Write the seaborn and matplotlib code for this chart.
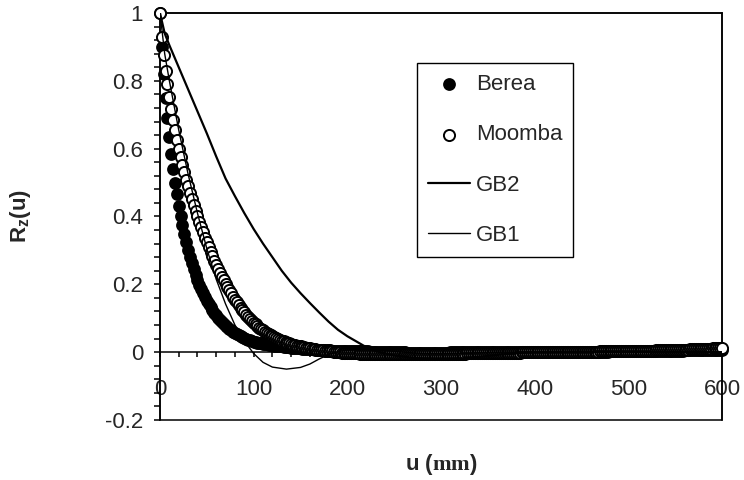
import numpy as np
import pandas as pd
import matplotlib
matplotlib.use("Agg")
import matplotlib.pyplot as plt
import seaborn as sns
from matplotlib.ticker import MultipleLocator, FuncFormatter
from matplotlib.patches import Rectangle

# lag u of the measured correlation points
u_pts = [0, 2, 4, 6, 8, 10, 12, 14, 16, 18,
         20, 22, 24, 26, 28, 30, 32, 34, 36, 38,
         40, 42, 44, 46, 48, 50, 52, 54, 56, 58,
         60, 62, 64, 66, 68, 70, 72, 74, 76, 78,
         80, 82, 84, 86, 88, 90, 92, 94, 96, 98,
         100, 102, 104, 106, 108, 110, 112, 114, 116, 118,
         120, 122, 124, 126, 128, 130, 132, 134, 136, 138,
         140, 142, 144, 146, 148, 150, 152, 154, 156, 158,
         160, 162, 164, 166, 168, 170, 172, 174, 176, 178,
         180, 182, 184, 186, 188, 190, 192, 194, 196, 198,
         200, 202, 204, 206, 208, 210, 212, 214, 216, 218,
         220, 222, 224, 226, 228, 230, 232, 234, 236, 238,
         240, 242, 244, 246, 248, 250, 252, 254, 256, 258,
         260, 262, 264, 266, 268, 270, 272, 274, 276, 278,
         280, 282, 284, 286, 288, 290, 292, 294, 296, 298,
         300, 302, 304, 306, 308, 310, 312, 314, 316, 318,
         320, 322, 324, 326, 328, 330, 332, 334, 336, 338,
         340, 342, 344, 346, 348, 350, 352, 354, 356, 358,
         360, 362, 364, 366, 368, 370, 372, 374, 376, 378,
         380, 382, 384, 386, 388, 390, 392, 394, 396, 398,
         400, 402, 404, 406, 408, 410, 412, 414, 416, 418,
         420, 422, 424, 426, 428, 430, 432, 434, 436, 438,
         440, 442, 444, 446, 448, 450, 452, 454, 456, 458,
         460, 462, 464, 466, 468, 470, 472, 474, 476, 478,
         480, 482, 484, 486, 488, 490, 492, 494, 496, 498,
         500, 502, 504, 506, 508, 510, 512, 514, 516, 518,
         520, 522, 524, 526, 528, 530, 532, 534, 536, 538,
         540, 542, 544, 546, 548, 550, 552, 554, 556, 558,
         560, 562, 564, 566, 568, 570, 572, 574, 576, 578,
         580, 582, 584, 586, 588, 590, 592, 594, 596, 598,
         600]

berea = [1.0, 0.9, 0.82, 0.75, 0.69, 0.635, 0.585, 0.54, 0.5, 0.465,
         0.432, 0.402, 0.374, 0.348, 0.324, 0.302, 0.282, 0.263, 0.245, 0.228,
         0.213, 0.199, 0.186, 0.174, 0.163, 0.152, 0.142, 0.133, 0.124, 0.116,
         0.109, 0.102, 0.095, 0.089, 0.083, 0.078, 0.073, 0.068, 0.064, 0.06,
         0.056, 0.053, 0.05, 0.047, 0.044, 0.041, 0.039, 0.037, 0.035, 0.033,
         0.031, 0.03, 0.028, 0.027, 0.026, 0.025, 0.024, 0.023, 0.022, 0.021,
         0.02, 0.019, 0.019, 0.018, 0.017, 0.017, 0.016, 0.015, 0.015, 0.014,
         0.013, 0.013, 0.012, 0.012, 0.011, 0.011, 0.01, 0.01, 0.009, 0.009,
         0.008, 0.008, 0.008, 0.007, 0.007, 0.007, 0.006, 0.006, 0.006, 0.005,
         0.005, 0.005, 0.004, 0.004, 0.004, 0.004, 0.003, 0.003, 0.003, 0.003,
         0.002, 0.002, 0.002, 0.002, 0.002, 0.002, 0.002, 0.002, 0.002, 0.002,
         0.002, 0.002, 0.001, 0.001, 0.001, 0.001, 0.001, 0.001, 0.001, 0.001,
         0.0, 0.0, 0.0, 0.0, 0.0, 0.0, 0.0, 0.0, 0.0, 0.0,
         0.0, 0.0, -0.001, -0.001, -0.001, -0.001, -0.001, -0.001, -0.001, -0.001,
         -0.001, -0.001, -0.001, -0.001, -0.001, -0.001, -0.001, -0.001, -0.001, -0.001,
         -0.001, -0.001, -0.001, -0.001, -0.001, 0.0, 0.0, 0.0, 0.0, 0.0,
         0.0, 0.0, 0.0, 0.0, 0.0, 0.0, 0.0, 0.0, 0.0, 0.0,
         0.0, 0.0, 0.0, 0.0, 0.0, 0.0, 0.0, 0.0, 0.0, 0.0,
         0.0, 0.0, 0.0, 0.0, 0.0, 0.0, 0.0, 0.0, 0.0, 0.0,
         0.0, 0.0, 0.0, 0.0, 0.0, 0.0, 0.0, 0.0, 0.0, 0.0,
         0.0, 0.0, 0.0, 0.0, 0.0, 0.0, 0.0, 0.0, 0.0, 0.0,
         0.0, 0.0, 0.0, 0.0, 0.0, 0.0, 0.0, 0.0, 0.0, 0.0,
         0.001, 0.001, 0.001, 0.001, 0.001, 0.001, 0.001, 0.001, 0.001, 0.001,
         0.001, 0.001, 0.001, 0.001, 0.001, 0.001, 0.001, 0.001, 0.001, 0.001,
         0.002, 0.002, 0.002, 0.002, 0.002, 0.002, 0.002, 0.002, 0.002, 0.002,
         0.002, 0.002, 0.002, 0.002, 0.002, 0.002, 0.002, 0.002, 0.002, 0.002,
         0.003, 0.003, 0.003, 0.003, 0.003, 0.003, 0.003, 0.003, 0.003, 0.003,
         0.004, 0.004, 0.004, 0.004, 0.004, 0.004, 0.004, 0.004, 0.004, 0.004,
         0.005, 0.005, 0.005, 0.005, 0.005, 0.005, 0.005, 0.005, 0.005, 0.005,
         0.006, 0.006, 0.006, 0.006, 0.006, 0.006, 0.006, 0.006, 0.006, 0.006,
         0.007]

moomba = [1.0, 0.93, 0.876, 0.83, 0.79, 0.752, 0.717, 0.685, 0.655, 0.627,
          0.6, 0.575, 0.552, 0.53, 0.509, 0.489, 0.47, 0.452, 0.434, 0.417,
          0.4, 0.384, 0.368, 0.353, 0.338, 0.324, 0.31, 0.296, 0.283, 0.27,
          0.258, 0.246, 0.234, 0.223, 0.212, 0.202, 0.192, 0.182, 0.173, 0.164,
          0.155, 0.147, 0.139, 0.131, 0.124, 0.117, 0.11, 0.104, 0.098, 0.092,
          0.087, 0.082, 0.077, 0.072, 0.068, 0.064, 0.06, 0.056, 0.053, 0.05,
          0.047, 0.044, 0.041, 0.038, 0.036, 0.034, 0.032, 0.03, 0.028, 0.026,
          0.024, 0.022, 0.021, 0.019, 0.018, 0.017, 0.015, 0.014, 0.013, 0.012,
          0.011, 0.01, 0.009, 0.008, 0.007, 0.006, 0.005, 0.005, 0.004, 0.003,
          0.003, 0.002, 0.002, 0.001, 0.001, 0.0, 0.0, -0.001, -0.001, -0.001,
          -0.002, -0.002, -0.002, -0.003, -0.003, -0.003, -0.003, -0.004, -0.004, -0.004,
          -0.004, -0.004, -0.005, -0.005, -0.005, -0.005, -0.005, -0.005, -0.006, -0.006,
          -0.006, -0.006, -0.006, -0.006, -0.006, -0.006, -0.006, -0.006, -0.006, -0.006,
          -0.006, -0.006, -0.006, -0.006, -0.006, -0.006, -0.006, -0.006, -0.006, -0.006,
          -0.006, -0.006, -0.006, -0.006, -0.006, -0.005, -0.005, -0.005, -0.005, -0.005,
          -0.005, -0.005, -0.005, -0.005, -0.005, -0.004, -0.004, -0.004, -0.004, -0.004,
          -0.004, -0.004, -0.004, -0.004, -0.003, -0.003, -0.003, -0.003, -0.003, -0.003,
          -0.003, -0.003, -0.003, -0.002, -0.002, -0.002, -0.002, -0.002, -0.002, -0.002,
          -0.002, -0.002, -0.001, -0.001, -0.001, -0.001, -0.001, -0.001, -0.001, -0.001,
          -0.001, -0.001, -0.001, 0.0, 0.0, 0.0, 0.0, 0.0, 0.0, 0.0,
          0.0, 0.0, 0.0, 0.0, 0.0, 0.0, 0.0, 0.0, 0.0, 0.0,
          0.0, 0.0, 0.0, 0.0, 0.0, 0.001, 0.001, 0.001, 0.001, 0.001,
          0.001, 0.001, 0.001, 0.001, 0.001, 0.001, 0.001, 0.001, 0.001, 0.001,
          0.001, 0.001, 0.001, 0.001, 0.001, 0.002, 0.002, 0.002, 0.002, 0.002,
          0.002, 0.002, 0.002, 0.002, 0.002, 0.003, 0.003, 0.003, 0.003, 0.003,
          0.003, 0.003, 0.003, 0.003, 0.003, 0.004, 0.004, 0.004, 0.004, 0.004,
          0.004, 0.004, 0.004, 0.004, 0.004, 0.005, 0.005, 0.005, 0.005, 0.005,
          0.005, 0.005, 0.005, 0.006, 0.006, 0.006, 0.006, 0.007, 0.007, 0.007,
          0.007, 0.007, 0.007, 0.008, 0.008, 0.008, 0.008, 0.009, 0.009, 0.009,
          0.009, 0.009, 0.01, 0.01, 0.01, 0.011, 0.011, 0.011, 0.012, 0.012,
          0.013]

# model curves
u_gb2 = [0, 5, 10, 20, 30, 40, 50, 60, 70, 80, 90, 100, 110, 120, 130, 140, 150, 160, 170,
         180, 190, 200, 210, 220, 230, 250, 275, 300, 325, 350, 375, 400, 450, 500, 550, 600]
gb2 = [1.0, 0.94, 0.905, 0.84, 0.775, 0.71, 0.645, 0.577, 0.512, 0.46, 0.41, 0.363, 0.32,
       0.28, 0.24, 0.205, 0.174, 0.145, 0.117, 0.09, 0.066, 0.047, 0.031, 0.015, 0.003,
       -0.01, -0.018, -0.021, -0.018, -0.011, -0.004, 0.0, 0.002, 0.001, 0.0, 0.0]

u_gb1 = [0, 5, 10, 20, 30, 40, 50, 60, 70, 80, 90, 100, 110, 120, 135, 150, 160, 170, 180,
         190, 200, 220, 240, 260, 280, 300, 330, 360, 400, 500, 600]
gb1 = [1.0, 0.88, 0.8, 0.655, 0.525, 0.41, 0.305, 0.215, 0.142, 0.08, 0.033, -0.004, -0.03,
       -0.044, -0.05, -0.045, -0.035, -0.02, -0.007, 0.002, 0.006, 0.008, 0.005, 0.0, -0.004,
       -0.005, -0.003, 0.0, 0.001, 0.0, 0.0]

sns.set_style("ticks")
plt.rcParams['font.family'] = ['Liberation Sans', 'DejaVu Sans']
plt.rcParams['axes.unicode_minus'] = False
plt.rcParams['mathtext.fontset'] = 'custom'
plt.rcParams['mathtext.rm'] = 'Liberation Sans:bold'
plt.rcParams['mathtext.tt'] = 'Liberation Serif:bold'
plt.rcParams['mathtext.default'] = 'regular'

W, H = 744, 480
fig = plt.figure(figsize=(W / 100, H / 100), dpi=100)
ax = fig.add_axes([160 / W, 1 - 420 / H, (722 - 160) / W, (420 - 13) / H])

sns.scatterplot(x=u_pts, y=berea, ax=ax, color='black', edgecolor='black', s=64,
                linewidth=1.2, label='Berea', clip_on=False, zorder=3)
sns.scatterplot(x=u_pts, y=moomba, ax=ax, color='white', edgecolor='black', s=64,
                linewidth=1.4, label='Moomba', clip_on=False, zorder=4)
sns.lineplot(x=u_gb2, y=gb2, ax=ax, color='black', linewidth=1.6, label='GB2', zorder=5)
sns.lineplot(x=u_gb1, y=gb1, ax=ax, color='black', linewidth=1.0, label='GB1', zorder=6)

ax.set_xlim(0, 600)
ax.set_ylim(-0.2, 1)

# x axis crosses at y = 0, plot area keeps its full frame
ax.spines['bottom'].set_position(('data', 0))
for s in ax.spines.values():
    s.set_color('black')
    s.set_linewidth(1.1)
ax.add_patch(Rectangle((0, 0), 1, 1, transform=ax.transAxes, fill=False,
                       edgecolor='black', linewidth=1.1, clip_on=False, zorder=2))

ax.xaxis.set_major_locator(MultipleLocator(100))
ax.xaxis.set_minor_locator(MultipleLocator(20))
ax.yaxis.set_major_locator(MultipleLocator(0.2))
ax.yaxis.set_minor_locator(MultipleLocator(0.04))
ax.yaxis.set_major_formatter(FuncFormatter(lambda v, p: f'{round(v, 2) + 0:g}'))
ax.tick_params(axis='x', which='both', direction='out', length=3.8, width=1.1,
               color='black', labelsize=16, pad=15.5, top=False)
ax.tick_params(axis='y', which='both', direction='out', length=4.2, width=1.1,
               color='black', labelsize=16, pad=8, right=False)

ax.set_xlabel(r'u ($\mathtt{mm}$)', fontsize=16, fontweight='bold')
ax.set_ylabel(r'R$_{z}$(u)', fontsize=16, fontweight='bold')
ax.xaxis.set_label_coords(0.5, -(452 - 420) / 407)
ax.yaxis.set_label_coords((33 - 160) / 562, 0.5)

leg = ax.legend(loc='upper left', bbox_to_anchor=(417 / W, 1 - 63 / H),
                bbox_transform=fig.transFigure, borderaxespad=0, frameon=True,
                fancybox=False, edgecolor='black', framealpha=1, fontsize=16,
                labelspacing=1.32, handlelength=1.9, handletextpad=0.25,
                borderpad=0.5, scatterpoints=1)
leg.get_frame().set_linewidth(1.0)

fig.savefig('out.png', dpi=100)
